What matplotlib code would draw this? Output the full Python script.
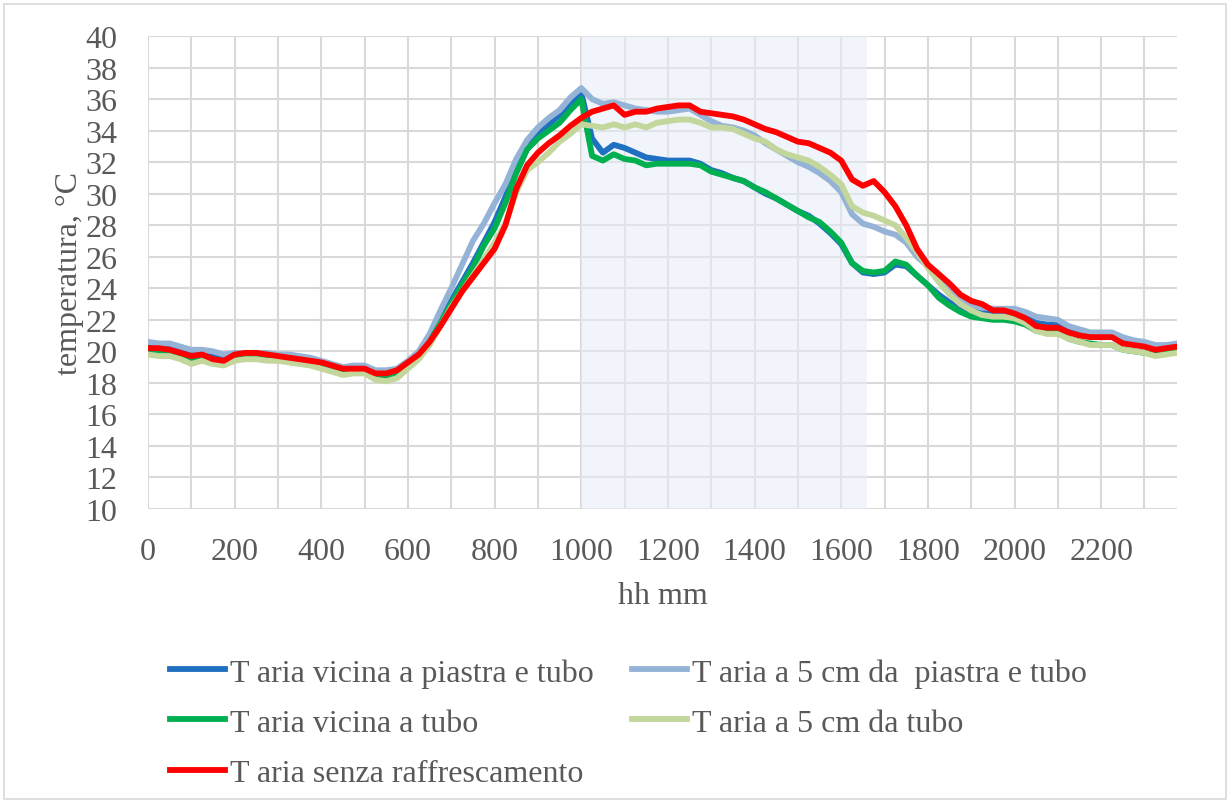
import numpy as np
import matplotlib.pyplot as plt
from matplotlib.patches import Rectangle
from matplotlib.ticker import MultipleLocator

plt.rcParams['font.family'] = ['Liberation Serif', 'DejaVu Serif']

# ore del giorno (hhmm decimale), una misura ogni 15 minuti
ore = np.arange(0, 2400, 25)

t_vicina_piastra = [
    20.3, 20.3, 20.2, 20.0, 19.8, 19.9, 19.7, 19.6, 19.8, 19.9, 19.9, 19.8,
    19.7, 19.6, 19.5, 19.4, 19.3, 19.1, 18.9, 18.9, 18.9, 18.6, 18.6, 18.8,
    19.3, 19.8, 20.8, 22.0, 23.2, 24.4, 25.6, 26.9, 28.2, 29.8, 31.6, 32.9,
    33.7, 34.4, 35.0, 35.7, 36.4, 33.5, 32.6, 33.1, 32.9, 32.6, 32.3, 32.2,
    32.1, 32.1, 32.1, 31.9, 31.5, 31.3, 31.0, 30.8, 30.4, 30.0, 29.7, 29.3,
    28.9, 28.6, 28.1, 27.5, 26.8, 25.6, 25.0, 24.9, 25.0, 25.5, 25.4, 24.8,
    24.2, 23.6, 23.1, 22.8, 22.6, 22.4, 22.5, 22.4, 22.4, 22.2, 21.8, 21.7,
    21.7, 21.3, 21.1, 21.0, 21.0, 21.0, 20.6, 20.5, 20.4, 20.2, 20.3, 20.4]

t_5cm_piastra = [
    20.6, 20.5, 20.5, 20.3, 20.1, 20.1, 20.0, 19.8, 19.9, 19.9, 19.9, 19.9,
    19.8, 19.8, 19.7, 19.6, 19.4, 19.2, 19.0, 19.1, 19.1, 18.8, 18.8, 18.9,
    19.4, 20.0, 21.1, 22.6, 24.0, 25.5, 27.0, 28.1, 29.4, 30.6, 32.2, 33.4,
    34.2, 34.8, 35.3, 36.1, 36.7, 36.0, 35.7, 35.8, 35.6, 35.4, 35.3, 35.2,
    35.2, 35.3, 35.4, 35.0, 34.6, 34.3, 34.2, 34.0, 33.7, 33.2, 32.8, 32.4,
    32.0, 31.7, 31.3, 30.8, 30.1, 28.7, 28.1, 27.9, 27.6, 27.4, 26.9, 26.0,
    25.4, 24.6, 23.9, 23.3, 23.0, 22.8, 22.7, 22.7, 22.7, 22.5, 22.2, 22.1,
    22.0, 21.6, 21.4, 21.2, 21.2, 21.2, 20.9, 20.7, 20.6, 20.4, 20.4, 20.5]

t_vicina_tubo = [
    20.0, 20.0, 19.9, 19.7, 19.5, 19.6, 19.3, 19.2, 19.6, 19.7, 19.7, 19.6,
    19.6, 19.5, 19.4, 19.3, 19.1, 18.9, 18.7, 18.7, 18.7, 18.4, 18.3, 18.6,
    19.1, 19.6, 20.6, 21.8, 23.0, 24.2, 25.3, 26.7, 27.8, 29.4, 31.3, 32.8,
    33.5, 34.0, 34.5, 35.3, 36.0, 32.4, 32.1, 32.5, 32.2, 32.1, 31.8, 31.9,
    31.9, 31.9, 31.9, 31.8, 31.4, 31.2, 31.0, 30.8, 30.4, 30.1, 29.7, 29.3,
    28.9, 28.5, 28.2, 27.6, 26.9, 25.6, 25.1, 25.0, 25.1, 25.7, 25.5, 24.8,
    24.2, 23.4, 22.9, 22.5, 22.2, 22.1, 22.0, 22.0, 21.9, 21.7, 21.3, 21.2,
    21.2, 20.8, 20.6, 20.5, 20.4, 20.4, 20.1, 20.0, 19.9, 19.8, 19.9, 20.0]

t_5cm_tubo = [
    19.8, 19.7, 19.7, 19.5, 19.2, 19.4, 19.2, 19.1, 19.4, 19.5, 19.5, 19.4,
    19.4, 19.3, 19.2, 19.1, 18.9, 18.7, 18.5, 18.6, 18.6, 18.2, 18.1, 18.3,
    18.9, 19.5, 20.4, 21.6, 22.8, 23.8, 24.8, 25.8, 26.9, 28.1, 30.1, 31.5,
    32.0, 32.6, 33.3, 33.8, 34.4, 34.3, 34.2, 34.4, 34.2, 34.4, 34.2, 34.5,
    34.6, 34.7, 34.7, 34.5, 34.2, 34.2, 34.1, 33.8, 33.5, 33.3, 32.8, 32.5,
    32.3, 32.1, 31.7, 31.2, 30.6, 29.2, 28.8, 28.6, 28.3, 28.0, 27.2, 26.3,
    25.3, 24.4, 23.6, 23.0, 22.6, 22.3, 22.2, 22.2, 22.1, 21.8, 21.3, 21.1,
    21.1, 20.8, 20.6, 20.4, 20.4, 20.4, 20.1, 20.0, 19.9, 19.7, 19.8, 19.9]

t_senza_raffr = [
    20.2, 20.2, 20.1, 19.9, 19.7, 19.8, 19.5, 19.4, 19.8, 19.9, 19.9, 19.8,
    19.7, 19.6, 19.5, 19.4, 19.3, 19.1, 18.9, 18.9, 18.9, 18.6, 18.6, 18.8,
    19.3, 19.8, 20.6, 21.6, 22.7, 23.8, 24.7, 25.6, 26.5, 28.0, 30.3, 31.8,
    32.6, 33.2, 33.7, 34.3, 34.8, 35.2, 35.4, 35.6, 35.0, 35.2, 35.2, 35.4,
    35.5, 35.6, 35.6, 35.2, 35.1, 35.0, 34.9, 34.7, 34.4, 34.1, 33.9, 33.6,
    33.3, 33.2, 32.9, 32.6, 32.1, 30.9, 30.5, 30.8, 30.1, 29.2, 28.0, 26.5,
    25.5, 24.9, 24.3, 23.6, 23.2, 23.0, 22.6, 22.6, 22.4, 22.1, 21.6, 21.5,
    21.5, 21.2, 21.0, 20.9, 20.9, 20.9, 20.5, 20.4, 20.3, 20.1, 20.2, 20.3]

serie = [
    ('T aria vicina a piastra e tubo', t_vicina_piastra, '#1f70c1'),
    ('T aria a 5 cm da  piastra e tubo', t_5cm_piastra, '#95b3d7'),
    ('T aria vicina a tubo', t_vicina_tubo, '#00b050'),
    ('T aria a 5 cm da tubo', t_5cm_tubo, '#c3d69b'),
    ('T aria senza raffrescamento', t_senza_raffr, '#ff0000'),
]
grigio = '#595959'

fig = plt.figure(figsize=(12.3, 8.03), dpi=100)
ax = fig.add_axes([0.1203, 0.3649, 0.8366, 0.589])

# periodo di raffrescamento
ax.axvspan(1000, 1660, color='#e6ecf6', alpha=0.55, zorder=1, lw=0)

linee = []
for nome, val, col in serie:
    l, = ax.plot(ore, val, color=col, lw=4.2, label=nome, zorder=3,
                 solid_joinstyle='round')
    linee.append(l)

ax.set_xlim(0, 2375)
ax.set_ylim(10, 40)
ax.xaxis.set_major_locator(MultipleLocator(200))
ax.xaxis.set_minor_locator(MultipleLocator(100))
ax.yaxis.set_major_locator(MultipleLocator(2))
ax.grid(True, which='both', color='#d9d9d9', lw=1.5, zorder=0)
ax.set_axisbelow(True)
for s in ax.spines.values():
    s.set_visible(False)
ax.tick_params(which='both', length=0, labelsize=23, colors=grigio)
ax.tick_params(axis='x', pad=20)
ax.tick_params(axis='y', pad=22)

ax.set_xlabel('hh mm', fontsize=23, color=grigio, labelpad=11)
ax.set_ylabel('temperatura, °C', fontsize=23, color=grigio, labelpad=1)

# ordine per righe come nel foglio originale
ordine = [0, 2, 4, 1, 3]
ax.legend([linee[i] for i in ordine], [serie[i][0] for i in ordine],
          loc='upper left', bbox_to_anchor=(170 / 1230, 0.1793),
          bbox_transform=fig.transFigure, ncol=2, frameon=False,
          fontsize=23, handlelength=1.72, handletextpad=0.16,
          columnspacing=1.19, labelspacing=0.65, borderpad=0,
          borderaxespad=0, labelcolor=grigio)

fig.patches.append(Rectangle((0.003, 0.004), 0.994, 0.99,
                             transform=fig.transFigure, fill=False,
                             edgecolor='#d9d9d9', lw=1.2))

fig.savefig('out.png', dpi=100)
